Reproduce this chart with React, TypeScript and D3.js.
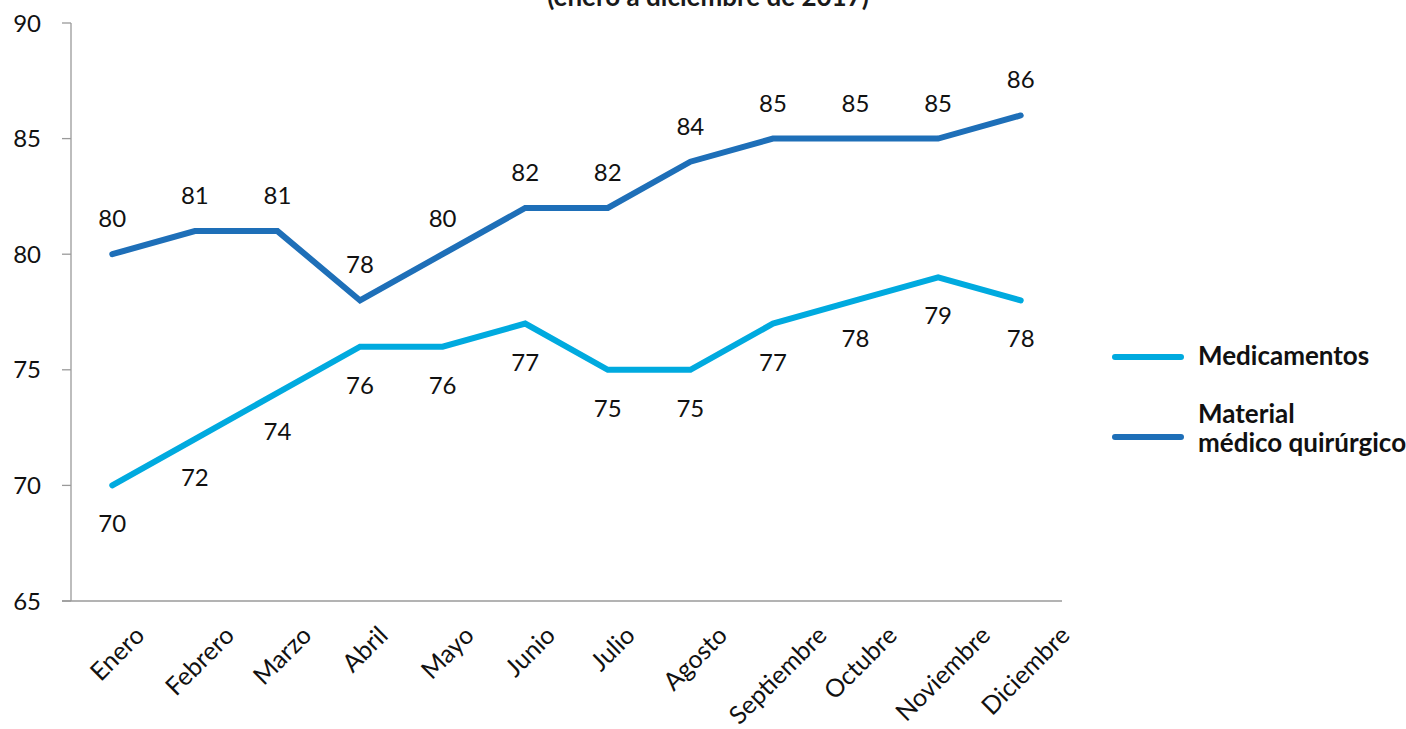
import { useEffect, useRef } from 'react';
import * as d3 from 'd3';

const months = ['Enero', 'Febrero', 'Marzo', 'Abril', 'Mayo', 'Junio', 'Julio', 'Agosto', 'Septiembre', 'Octubre', 'Noviembre', 'Diciembre'];
const medicamentos = [70, 72, 74, 76, 76, 77, 75, 75, 77, 78, 79, 78];
const materialMedico = [80, 81, 81, 78, 80, 82, 82, 84, 85, 85, 85, 86];
const yTicks = [65, 70, 75, 80, 85, 90];

const W = 1406;
const H = 729;
const FONT = 'Lato, "Noto Sans", sans-serif';

export default function App() {
    const svgRef = useRef<SVGSVGElement>(null);

    useEffect(() => {
        document.body.style.margin = '0';
        if (!svgRef.current) return;
        const svg = d3.select(svgRef.current);
        svg.selectAll('*').remove();

        const x = d3.scalePoint<string>().domain(months).range([71, 1062]).padding(0.5);
        const y = d3.scaleLinear().domain([65, 90]).range([601, 23]);

        // title (top part is cut off in the source)
        svg.append('text')
            .attr('x', 708)
            .attr('y', 6)
            .attr('text-anchor', 'middle')
            .attr('font-family', FONT)
            .attr('font-weight', 700)
            .attr('font-size', 26)
            .attr('fill', '#1a1a1a')
            .text('(enero a diciembre de 2017)');

        // axes
        const axisColor = '#9a9a9a';
        svg.append('line')
            .attr('x1', 71).attr('x2', 71)
            .attr('y1', y(90)).attr('y2', y(65))
            .attr('stroke', axisColor).attr('stroke-width', 1.3);
        svg.append('line')
            .attr('x1', 62).attr('x2', 1062)
            .attr('y1', y(65)).attr('y2', y(65))
            .attr('stroke', axisColor).attr('stroke-width', 1.3);

        const yt = svg.append('g');
        yt.selectAll('line')
            .data(yTicks)
            .join('line')
            .attr('x1', 62).attr('x2', 71)
            .attr('y1', d => y(d)).attr('y2', d => y(d))
            .attr('stroke', axisColor).attr('stroke-width', 1.3);
        yt.selectAll('text')
            .data(yTicks)
            .join('text')
            .attr('x', 41)
            .attr('y', d => y(d))
            .attr('dy', '0.36em')
            .attr('text-anchor', 'end')
            .attr('font-family', FONT)
            .attr('font-size', 24)
            .attr('fill', '#111')
            .text(d => d);

        // rotated month labels: middle of the label a bit right of the point, tops aligned
        const xl = svg.append('g')
            .selectAll('text')
            .data(months)
            .join('text')
            .attr('font-family', FONT)
            .attr('font-size', 25)
            .attr('fill', '#111')
            .attr('text-anchor', 'end')
            .text(d => d);
        xl.each(function (d) {
            const len = (this as SVGTextElement).getComputedTextLength();
            const ex = (x(d) as number) + 11 + len * Math.SQRT1_2 / 2;
            d3.select(this).attr('transform', `translate(${ex},637) rotate(-45)`);
        });

        const line = d3.line<number>()
            .x((_, i) => x(months[i]) as number)
            .y(d => y(d));

        const series = [
            { name: 'Medicamentos', values: medicamentos, color: '#00aadf', labelDy: 47 },
            { name: 'Material médico quirúrgico', values: materialMedico, color: '#1e6fb8', labelDy: -27 },
        ];

        series.forEach(s => {
            svg.append('path')
                .attr('d', line(s.values))
                .attr('fill', 'none')
                .attr('stroke', s.color)
                .attr('stroke-width', 6)
                .attr('stroke-linejoin', 'miter')
                .attr('stroke-linecap', 'round');

            svg.append('g')
                .selectAll('text')
                .data(s.values)
                .join('text')
                .attr('x', (_, i) => x(months[i]) as number)
                .attr('y', d => y(d) + s.labelDy)
                .attr('text-anchor', 'middle')
                .attr('font-family', FONT)
                .attr('font-size', 24)
                .attr('fill', '#111')
                .text(d => d);
        });

        // legend
        const lg = svg.append('g').attr('font-family', FONT).attr('font-weight', 700).attr('font-size', 26).attr('fill', '#111');
        lg.append('line')
            .attr('x1', 1115).attr('x2', 1181).attr('y1', 357).attr('y2', 357)
            .attr('stroke', series[0].color).attr('stroke-width', 6).attr('stroke-linecap', 'round');
        lg.append('text').attr('x', 1198).attr('y', 365).text('Medicamentos');
        lg.append('line')
            .attr('x1', 1115).attr('x2', 1181).attr('y1', 437).attr('y2', 437)
            .attr('stroke', series[1].color).attr('stroke-width', 6).attr('stroke-linecap', 'round');
        lg.append('text').attr('x', 1198).attr('y', 423).text('Material');
        lg.append('text').attr('x', 1198).attr('y', 452).text('médico quirúrgico');
    }, []);

    return <svg ref={svgRef} width={W} height={H} style={{ display: 'block', background: '#fff' }} />;
}
